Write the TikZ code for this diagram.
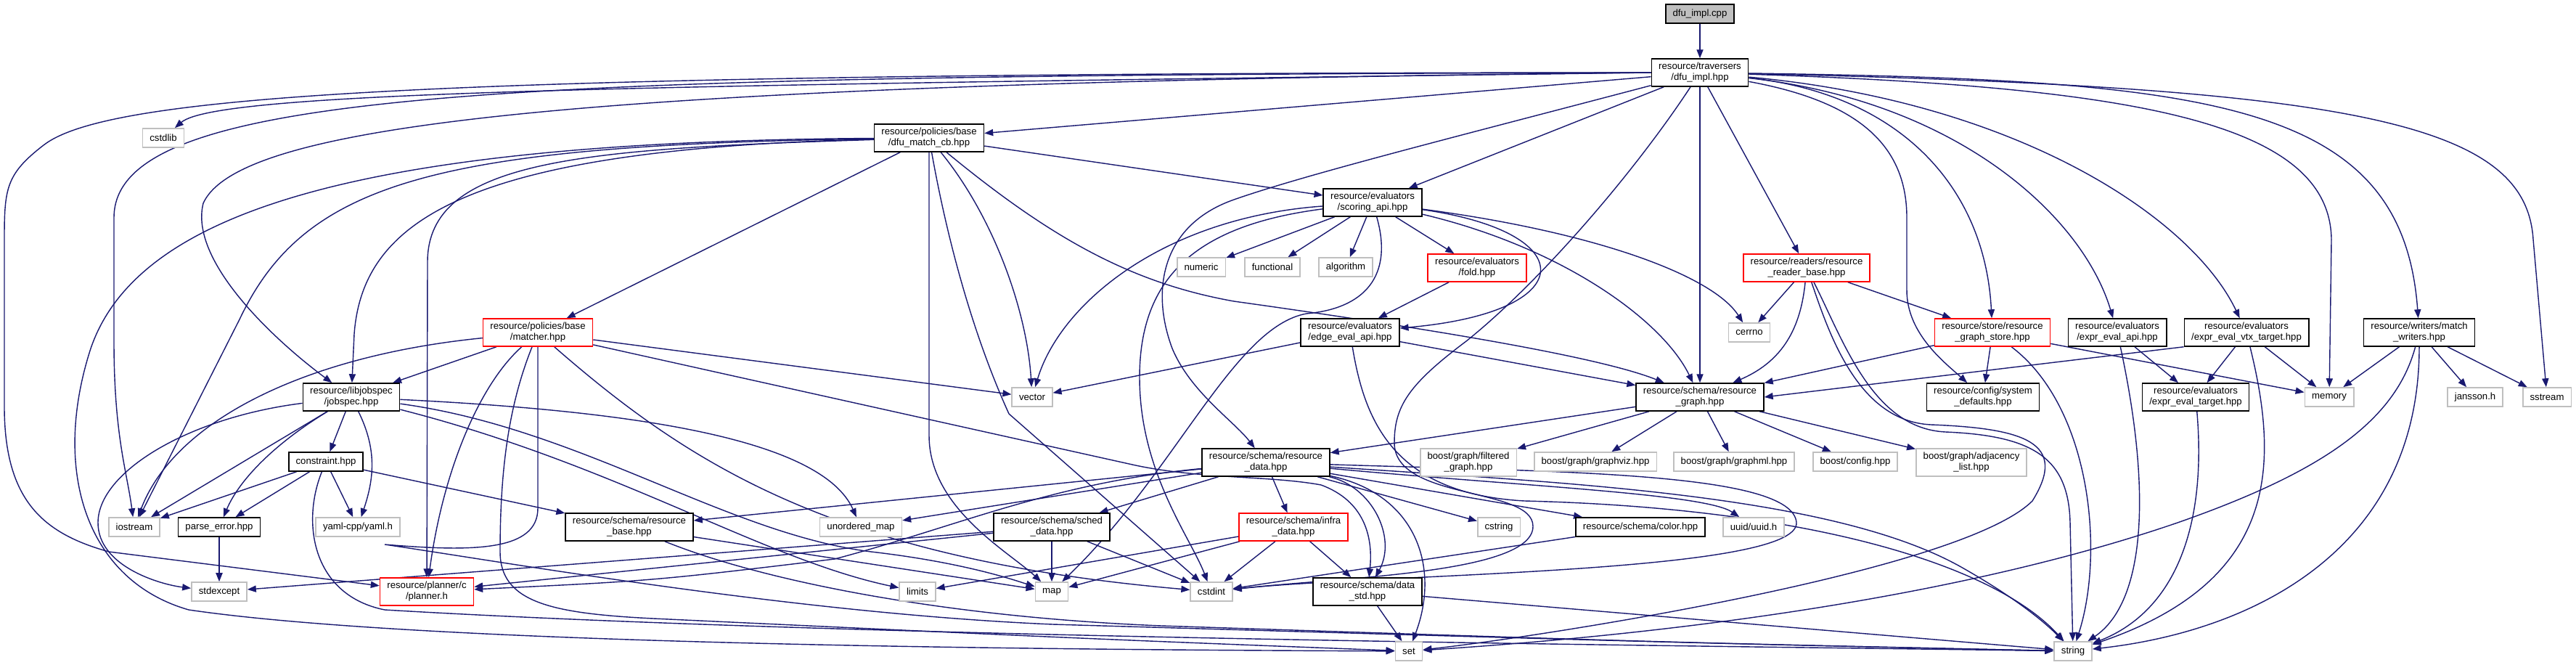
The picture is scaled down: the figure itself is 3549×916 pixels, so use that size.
\documentclass[tikz,border=0pt]{standalone}
\usepackage{fontspec}
\setmainfont{Liberation Sans}
\usetikzlibrary{arrows.meta,backgrounds}

\definecolor{edgeblue}{HTML}{191970}
\definecolor{lightgrey}{HTML}{BFBFBF}

\tikzset{
  file/.style={rectangle, fill=white, align=center, font=\fontsize{3.75}{4.3}\selectfont,
    inner xsep=2.8pt, inner ysep=1.5pt, minimum height=0.26cm, line width=0.45pt},
  srcfile/.style={file, draw=black, fill=lightgrey},
  hdr/.style={file, draw=black},
  redhdr/.style={file, draw=red},
  syshdr/.style={file, draw=lightgrey},
  inc/.style={draw=edgeblue, line width=0.4pt, -{Triangle[length=3.4pt,width=2.6pt]}},
}

\begin{document}
\begin{tikzpicture}[x=0.01cm, y=-0.01cm]
    \useasboundingbox (0,0) rectangle (3549,916);

    % Top: the source file and its header
    \node[srcfile] (cpp) at (2342,19) {dfu\_impl.cpp};
    \node[hdr] (impl) at (2342,100) {resource/traversers\\/dfu\_impl.hpp};

    % Row 2-3
    \node[syshdr] (cstdlib) at (225,190) {cstdlib};
    \node[hdr] (matchcb) at (1280,190) {resource/policies/base\\/dfu\_match\_cb.hpp};
    \node[hdr] (scoring) at (1891,279) {resource/evaluators\\/scoring\_api.hpp};

    % Row 4
    \node[syshdr] (numeric) at (1655,368) {numeric};
    \node[syshdr] (functional) at (1753,368) {functional};
    \node[syshdr] (algorithm) at (1854,368) {algorithm};
    \node[redhdr] (fold) at (2035,369) {resource/evaluators\\/fold.hpp};
    \node[redhdr] (readerbase) at (2489,369) {resource/readers/resource\\\_reader\_base.hpp};

    % Row 5
    \node[redhdr] (matcher) at (741,458) {resource/policies/base\\/matcher.hpp};
    \node[hdr] (edgeeval) at (1860,458) {resource/evaluators\\/edge\_eval\_api.hpp};
    \node[syshdr] (cerrno) at (2410,458) {cerrno};
    \node[redhdr] (gstore) at (2745,458) {resource/store/resource\\\_graph\_store.hpp};
    \node[hdr] (exprapi) at (2917,458) {resource/evaluators\\/expr\_eval\_api.hpp};
    \node[hdr] (exprvtx) at (3095,458) {resource/evaluators\\/expr\_eval\_vtx\_target.hpp};
    \node[hdr] (writers) at (3333,458) {resource/writers/match\\\_writers.hpp};

    % Row 6
    \node[hdr] (jobspec) at (484,547) {resource/libjobspec\\/jobspec.hpp};
    \node[syshdr] (vector) at (1422,547) {vector};
    \node[hdr] (rgraph) at (2342,547) {resource/schema/resource\\\_graph.hpp};
    \node[hdr] (sysdef) at (2732,547) {resource/config/system\\\_defaults.hpp};
    \node[hdr] (exprtgt) at (3025,547) {resource/evaluators\\/expr\_eval\_target.hpp};
    \node[syshdr] (memory) at (3209,547) {memory};
    \node[syshdr] (jansson) at (3410,547) {jansson.h};
    \node[syshdr] (sstream) at (3509,547) {sstream};

    % Row 7
    \node[hdr] (constraint) at (449,636) {constraint.hpp};
    \node[hdr] (rdata) at (1744,637) {resource/schema/resource\\\_data.hpp};
    \node[syshdr] (filtered) at (2023,637) {boost/graph/filtered\\\_graph.hpp};
    \node[syshdr] (graphviz) at (2198,636) {boost/graph/graphviz.hpp};
    \node[syshdr] (graphml) at (2389,636) {boost/graph/graphml.hpp};
    \node[syshdr] (bconfig) at (2556,636) {boost/config.hpp};
    \node[syshdr] (adjlist) at (2716,637) {boost/graph/adjacency\\\_list.hpp};

    % Row 8
    \node[syshdr] (iostream) at (185,726) {iostream};
    \node[hdr] (parseerr) at (302,726) {parse\_error.hpp};
    \node[syshdr] (yaml) at (493,726) {yaml-cpp/yaml.h};
    \node[hdr] (rbase) at (867,726) {resource/schema/resource\\\_base.hpp};
    \node[syshdr] (umap) at (1186,726) {unordered\_map};
    \node[hdr] (sched) at (1449,726) {resource/schema/sched\\\_data.hpp};
    \node[redhdr] (infra) at (1782,726) {resource/schema/infra\\\_data.hpp};
    \node[syshdr] (cstring) at (2065,726) {cstring};
    \node[hdr] (color) at (2260,726) {resource/schema/color.hpp};
    \node[syshdr] (uuid) at (2416,726) {uuid/uuid.h};

    % Row 9
    \node[syshdr] (stdexcept) at (302,815) {stdexcept};
    \node[redhdr] (planner) at (588,815) {resource/planner/c\\/planner.h};
    \node[syshdr] (limits) at (1264,815) {limits};
    \node[syshdr] (map) at (1449,815) {map};
    \node[syshdr] (cstdint) at (1669,815) {cstdint};
    \node[hdr] (datastd) at (1884,815) {resource/schema/data\\\_std.hpp};

    % Bottom row
    \node[syshdr] (set) at (1941,897) {set};
    \node[syshdr] (string) at (2856,897) {string};

    \begin{pgfonlayer}{background}
    % dfu_impl.cpp and dfu_impl.hpp
    \draw[inc] (cpp) -- (impl);
    \draw[inc] (impl) -- (matchcb);
    \draw[inc] (impl) -- (scoring);
    \draw[inc] (impl) -- (rgraph);
    \draw[inc] (impl) -- (readerbase);
    \draw[inc] (impl.west) .. controls (900,118) and (300,125) .. (cstdlib);
    \draw[inc] (impl.west) .. controls (700,104) and (157,120) .. (157,300) -- (157,470) .. controls (157,600) and (175,650) .. (iostream);
    \draw[inc] (impl.west) .. controls (600,100) and (150,130) .. (60,200) .. controls (8,240) and (6,260) .. (6,330) -- (6,560) .. controls (6,690) and (60,735) .. (150,760) -- (planner);
    \draw[inc] (impl.west) .. controls (800,115) and (330,170) .. (280,280) .. controls (260,360) and (380,470) .. (jobspec);
    \draw[inc] (impl) .. controls (2000,190) and (1800,240) .. (1700,275) .. controls (1600,310) and (1585,400) .. (1615,480) .. controls (1640,540) and (1700,580) .. (rdata);
    \draw[inc] (impl) .. controls (2250,240) and (2120,390) .. (2020,470) .. controls (1940,530) and (1921,560) .. (1921,610) .. controls (1921,690) and (2112,670) .. (2112,725) .. controls (2112,790) and (1850,795) .. (cstdint);
    \draw[inc] (impl) .. controls (2560,140) and (2627,200) .. (2627,300) -- (2627,400) .. controls (2627,460) and (2680,500) .. (sysdef);
    \draw[inc] (impl) .. controls (2620,130) and (2735,260) .. (gstore);
    \draw[inc] (impl) .. controls (2700,140) and (2870,300) .. (exprapi);
    \draw[inc] (impl) .. controls (2780,140) and (3020,300) .. (exprvtx);
    \draw[inc] (impl) .. controls (2950,120) and (3210,170) .. (3212,330) -- (memory);
    \draw[inc] (impl) .. controls (3050,110) and (3310,140) .. (writers);
    \draw[inc] (impl) .. controls (3250,120) and (3480,170) .. (3490,330) -- (sstream);

    % dfu_match_cb.hpp
    \draw[inc] (matchcb) -- (matcher);
    \draw[inc] (matchcb) -- (scoring);
    \draw[inc] (matchcb) .. controls (650,205) and (500,300) .. (488,460) -- (jobspec);
    \draw[inc] (matchcb) .. controls (600,200) and (420,250) .. (330,440) -- (iostream);
    \draw[inc] (matchcb) .. controls (500,195) and (190,290) .. (125,480) .. controls (70,650) and (120,800) .. (260,840) .. controls (600,890) and (1500,895) .. (set);
    \draw[inc] (matchcb) .. controls (800,205) and (590,220) .. (589,360) -- (planner);
    \draw[inc] (matchcb) -- (1280,600) .. controls (1280,700) and (1390,760) .. (map);
    \draw[inc] (matchcb) .. controls (1305,330) and (1340,460) .. (1390,570) -- (cstdint);
    \draw[inc] (matchcb) .. controls (1370,300) and (1415,430) .. (vector);
    \draw[inc] (matchcb) .. controls (1450,330) and (1560,390) .. (1700,415) .. controls (1950,450) and (2200,490) .. (rgraph);

    % matcher.hpp
    \draw[inc] (matcher) -- (jobspec);
    \draw[inc] (matcher) .. controls (420,490) and (240,580) .. (iostream);
    \draw[inc] (matcher) .. controls (660,530) and (610,650) .. (planner);
    \draw[inc] (matcher) .. controls (700,560) and (689,650) .. (689,760) .. controls (689,830) and (760,845) .. (900,852) .. controls (1500,880) .. (set);
    \draw[inc] (matcher.south) -- (741,700) .. controls (741,760) and (650,760) .. (530,750) .. controls (700,775) and (1100,845) .. (1450,860) .. controls (2300,885) .. (string);
    \draw[inc] (matcher) .. controls (950,640) and (1150,770) .. (cstdint);
    \draw[inc] (matcher) -- (vector);
    \draw[inc] (matcher) -- (1560,640) .. controls (1650,660) and (1750,655) .. (1820,668) .. controls (1880,690) and (1892,740) .. (datastd);

    % jobspec.hpp and constraint.hpp
    \draw[inc] (jobspec) -- (constraint);
    \draw[inc] (jobspec) .. controls (520,620) and (515,660) .. (yaml);
    \draw[inc] (jobspec) -- (iostream);
    \draw[inc] (jobspec) .. controls (380,610) and (330,660) .. (parseerr);
    \draw[inc] (jobspec) .. controls (260,575) and (135,650) .. (135,720) .. controls (135,780) and (220,805) .. (stdexcept);
    \draw[inc] (jobspec) .. controls (850,565) and (1130,600) .. (umap);
    \draw[inc] (jobspec) .. controls (800,590) and (1000,735) .. (1200,760) .. controls (1330,775) and (1400,800) .. (map);
    \draw[inc] (jobspec) .. controls (850,640) and (1050,770) .. (limits);
    \draw[inc] (constraint) -- (iostream);
    \draw[inc] (constraint) -- (parseerr);
    \draw[inc] (constraint) -- (yaml);
    \draw[inc] (constraint) -- (rbase);
    \draw[inc] (constraint) .. controls (415,720) and (430,820) .. (530,840) .. controls (1200,880) and (2400,890) .. (string);
    \draw[inc] (parseerr) -- (stdexcept);

    % resource_base.hpp
    \draw[inc] (rbase) -- (map);
    \draw[inc] (rbase) .. controls (1050,800) and (1300,850) .. (1600,862) .. controls (2300,885) .. (string);

    % resource_data.hpp
    \draw[inc] (rdata) -- (sched);
    \draw[inc] (rdata) -- (infra);
    \draw[inc] (rdata) -- (umap);
    \draw[inc] (rdata) -- (rbase);
    \draw[inc] (rdata) .. controls (1450,665) and (1320,725) .. (1150,770) .. controls (900,800) .. (planner);
    \draw[inc] (rdata) .. controls (1950,680) and (1985,780) .. (set);
    \draw[inc] (rdata) .. controls (1890,670) and (1925,740) .. (datastd);
    \draw[inc] (rdata) -- (cstring);
    \draw[inc] (rdata) -- (color);
    \draw[inc] (rdata) .. controls (2100,670) and (2350,680) .. (uuid);
    \draw[inc] (rdata) .. controls (2150,665) and (2520,680) .. (2700,780) .. controls (2780,825) and (2820,860) .. (string);
    \draw[inc] (rdata) .. controls (2150,650) and (2470,650) .. (2475,720) .. controls (2478,790) and (1900,790) .. (cstdint);

    % schema leaves
    \draw[inc] (sched) -- (planner);
    \draw[inc] (sched) -- (stdexcept);
    \draw[inc] (sched) -- (map);
    \draw[inc] (sched) -- (cstdint);
    \draw[inc] (infra) -- (limits);
    \draw[inc] (infra) -- (map);
    \draw[inc] (infra) -- (cstdint);
    \draw[inc] (infra) -- (datastd);
    \draw[inc] (color) -- (cstdint);
    \draw[inc] (datastd) -- (set);
    \draw[inc] (datastd) -- (string);

    % resource_graph.hpp
    \draw[inc] (rgraph) -- (rdata);
    \draw[inc] (rgraph) -- (filtered);
    \draw[inc] (rgraph) -- (graphviz);
    \draw[inc] (rgraph) -- (graphml);
    \draw[inc] (rgraph) -- (bconfig);
    \draw[inc] (rgraph) -- (adjlist);

    % scoring_api.hpp, fold.hpp, edge_eval_api.hpp
    \draw[inc] (scoring) -- (numeric);
    \draw[inc] (scoring) -- (functional);
    \draw[inc] (scoring) -- (algorithm);
    \draw[inc] (scoring) -- (fold);
    \draw[inc] (scoring) .. controls (2180,320) and (2180,430) .. (edgeeval);
    \draw[inc] (scoring) .. controls (2150,340) and (2290,440) .. (rgraph);
    \draw[inc] (scoring) .. controls (2200,320) and (2360,380) .. (cerrno);
    \draw[inc] (scoring) .. controls (1600,300) and (1460,420) .. (vector);
    \draw[inc] (scoring) .. controls (1920,380) and (1880,425) .. (1800,432) .. controls (1700,450) and (1620,650) .. (map);
    \draw[inc] (scoring) .. controls (1650,310) and (1570,380) .. (1570,520) .. controls (1570,650) and (1640,740) .. (cstdint);
    \draw[inc] (fold) -- (edgeeval);
    \draw[inc] (edgeeval) -- (vector);
    \draw[inc] (edgeeval) -- (rgraph);
    \draw[inc] (edgeeval) .. controls (1880,580) and (1920,680) .. (2100,690) .. controls (2500,700) and (2750,780) .. (string);

    % resource_reader_base.hpp and resource_graph_store.hpp
    \draw[inc] (readerbase) -- (cerrno);
    \draw[inc] (readerbase) .. controls (2480,460) and (2450,500) .. (rgraph);
    \draw[inc] (readerbase) -- (gstore);
    \draw[inc] (readerbase) .. controls (2520,460) and (2560,580) .. (2660,585) .. controls (2790,590) and (2850,610) .. (2800,690) .. controls (2700,790) and (2100,880) .. (set);
    \draw[inc] (readerbase) .. controls (2540,470) and (2580,590) .. (2680,595) .. controls (2800,600) and (2850,630) .. (2852,720) -- (string);
    \draw[inc] (gstore) -- (rgraph);
    \draw[inc] (gstore) -- (sysdef);
    \draw[inc] (gstore) -- (memory);
    \draw[inc] (gstore) .. controls (2880,560) and (2900,760) .. (string);

    % expression evaluators and writers
    \draw[inc] (exprapi) -- (exprtgt);
    \draw[inc] (exprapi) .. controls (2965,680) and (2955,830) .. (string);
    \draw[inc] (exprvtx.south west) -- (rgraph.east);
    \draw[inc] (exprvtx) -- (exprtgt);
    \draw[inc] (exprvtx) -- (memory);
    \draw[inc] (exprvtx) .. controls (3140,640) and (3140,800) .. (string);
    \draw[inc] (exprtgt) .. controls (3040,720) and (3000,840) .. (string);
    \draw[inc] (writers) -- (memory);
    \draw[inc] (writers) -- (jansson);
    \draw[inc] (writers) -- (sstream);
    \draw[inc] (writers) .. controls (3333,760) and (3100,870) .. (string);
    \draw[inc] (writers) .. controls (3300,580) and (3200,650) .. (3000,720) .. controls (2650,840) and (2200,880) .. (set);
    \end{pgfonlayer}

\end{tikzpicture}
\end{document}
